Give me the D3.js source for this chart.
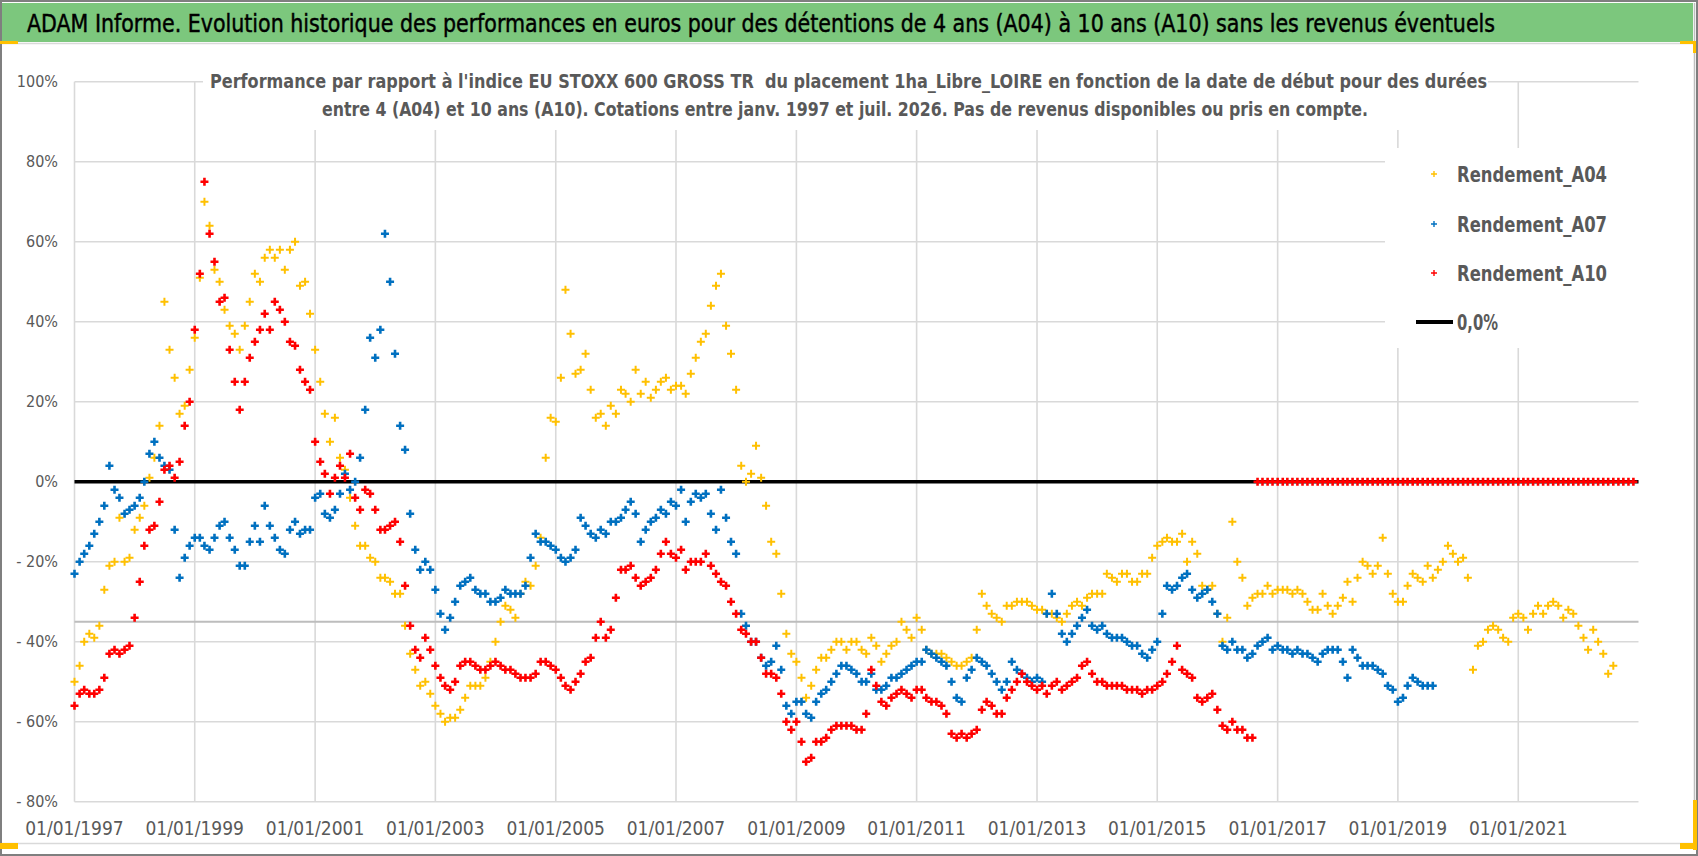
<!DOCTYPE html>
<html><head><meta charset="utf-8">
<script src="https://cdn.jsdelivr.net/npm/d3@7"></script>
<style>
html,body{margin:0;padding:0;background:#fff;}
svg{display:block;}
text{font-family:"Liberation Sans Narrow","DejaVu Sans Condensed","Liberation Sans",sans-serif;}
</style></head><body>
<svg id="chart" width="1698" height="856"></svg>
<script>
// ---------------- DATA ----------------
const titleText = "ADAM Informe. Evolution historique des performances en euros pour des détentions de 4 ans (A04) à 10 ans (A10) sans les revenus éventuels";
const subtitleLines = [
  "Performance par rapport à l'indice EU STOXX 600 GROSS TR  du placement 1ha_Libre_LOIRE en fonction de la date de début pour des durées",
  "entre 4 (A04) et 10 ans (A10). Cotations entre janv. 1997 et juil. 2026. Pas de revenus disponibles ou pris en compte."
];
const seriesNames = ["Rendement_A04", "Rendement_A07", "Rendement_A10"];
const zeroLineLabel = "0,0%";
const xTickYears = [1997, 1999, 2001, 2003, 2005, 2007, 2009, 2011, 2013, 2015, 2017, 2019, 2021];
const xDomainYears = [1997, 2023];
const yTicks = [100, 80, 60, 40, 20, 0, -20, -40, -60, -80];
const greyLineLevel = -35;
// monthly observations, first value = January 1997 (in %)
const rendementA04 = [
-50,-46,-40,-38,-39,-36,-27,-21,-20,-9,-20,-19,
-12,-9,-6,1,6,14,45,33,26,17,19,28,
36,51,70,64,53,50,43,39,37,33,39,45,
52,50,56,58,56,58,53,58,60,49,50,42,
33,25,17,10,16,6,3,-4,-11,-16,-16,-19,
-20,-24,-24,-25,-28,-28,-36,-43,-47,-51,-50,-53,
-56,-58,-60,-59,-59,-57,-54,-51,-51,-51,-49,-45,
-40,-35,-31,-32,-34,-28,-25,-26,-21,-14,6,16,
15,26,48,37,27,28,32,23,16,17,14,19,
17,23,22,20,28,22,25,21,23,25,26,23,
24,24,22,27,31,35,37,44,49,52,39,32,
23,4,0,2,9,1,-6,-15,-18,-28,-38,-43,
-45,-49,-54,-51,-47,-44,-44,-42,-40,-40,-42,-40,
-40,-42,-43,-39,-41,-45,-43,-41,-40,-35,-37,-39,
-34,-37,-42,-43,-43,-43,-44,-45,-46,-46,-45,-44,
-37,-28,-31,-33,-34,-35,-31,-31,-30,-30,-30,-31,
-32,-32,-33,-33,-34,-35,-33,-31,-30,-31,-29,-28,
-28,-28,-23,-24,-25,-23,-23,-25,-25,-23,-23,-19,
-16,-15,-14,-15,-15,-13,-20,-15,-18,-26,-27,-26,
-33,-40,-34,-10,-20,-24,-31,-29,-28,-28,-26,-28,
-27,-27,-27,-28,-27,-28,-30,-32,-32,-28,-31,-33,
-31,-29,-25,-30,-24,-20,-21,-23,-21,-14,-23,-28,
-30,-30,-26,-23,-24,-25,-21,-24,-22,-20,-16,-18,
-20,-19,-24,-47,-41,-40,-37,-36,-37,-39,-40,-34,
-33,-34,-37,-33,-31,-33,-31,-30,-31,-34,-32,-33,
-36,-39,-42,-37,-40,-43,-48,-46
];
const rendementA07 = [
-23,-20,-18,-16,-13,-10,-6,4,-2,-4,-8,-7,
-6,-4,0,7,10,6,4,3,-12,-24,-19,-16,
-14,-14,-16,-17,-14,-11,-10,-14,-17,-21,-21,-15,
-11,-15,-6,-11,-14,-17,-18,-12,-10,-13,-12,-12,
-4,-3,-8,-9,-7,-3,2,-2,0,6,18,36,
31,38,62,50,32,14,8,-8,-17,-22,-20,-22,
-27,-33,-37,-34,-30,-26,-25,-24,-27,-28,-28,-30,
-30,-29,-27,-28,-28,-28,-26,-19,-13,-15,-15,-16,
-17,-19,-20,-19,-17,-9,-11,-13,-14,-12,-13,-10,
-10,-9,-7,-5,-8,-15,-12,-10,-9,-7,-8,-5,
-6,-2,-10,-5,-3,-4,-3,-8,-12,-2,-9,-15,
-18,-33,-36,-40,-40,-44,-46,-45,-41,-47,-56,-58,
-55,-55,-58,-59,-55,-53,-52,-50,-48,-46,-46,-47,
-48,-50,-50,-48,-52,-52,-51,-49,-49,-48,-47,-46,
-45,-45,-42,-43,-44,-45,-46,-50,-54,-55,-49,-47,
-44,-45,-46,-48,-50,-52,-50,-45,-47,-48,-49,-50,
-49,-50,-33,-28,-33,-38,-40,-38,-36,-34,-32,-36,
-37,-36,-38,-39,-39,-39,-40,-41,-41,-43,-44,-42,
-40,-33,-26,-27,-26,-24,-23,-27,-29,-28,-27,-30,
-33,-41,-42,-40,-42,-42,-44,-43,-41,-40,-39,-42,
-41,-42,-42,-43,-42,-43,-43,-44,-45,-43,-42,-42,
-42,-45,-49,-42,-44,-46,-46,-46,-47,-48,-51,-52,
-55,-54,-51,-49,-50,-51,-51,-51
];
const rendementA10 = [
-56,-53,-52,-53,-53,-52,-49,-43,-42,-43,-42,-41,
-34,-25,-16,-12,-11,-5,3,4,1,5,14,20,
38,52,75,62,55,45,46,33,25,18,25,31,
35,38,42,38,45,43,40,35,34,28,25,23,
10,5,2,-3,1,4,1,7,-4,-7,-2,-3,
-7,-12,-12,-11,-10,-15,-26,-36,-42,-44,-39,-42,
-46,-49,-51,-52,-50,-46,-45,-45,-46,-47,-47,-46,
-45,-46,-47,-47,-48,-49,-49,-49,-48,-45,-45,-46,
-47,-49,-51,-52,-50,-48,-45,-44,-39,-35,-39,-37,
-29,-22,-22,-21,-24,-26,-25,-24,-22,-18,-15,-18,
-19,-17,-22,-20,-20,-20,-18,-21,-23,-25,-26,-30,
-33,-37,-38,-40,-40,-44,-48,-48,-49,-53,-60,-62,
-60,-65,-70,-69,-65,-65,-64,-62,-61,-61,-61,-61,
-62,-62,-58,-47,-51,-55,-56,-54,-53,-52,-53,-54,
-52,-52,-54,-55,-55,-56,-58,-63,-64,-63,-64,-63,
-62,-57,-55,-56,-58,-58,-54,-52,-50,-48,-50,-51,
-52,-51,-53,-51,-50,-52,-51,-50,-49,-46,-45,-48,
-50,-50,-51,-51,-51,-51,-52,-52,-52,-53,-52,-52,
-51,-50,-48,-45,-41,-47,-48,-49,-54,-55,-54,-53,
-57,-61,-62,-60,-62,-62,-64,-64,0,0,0,0,
0,0,0,0,0,0,0,0,0,0,0,0,
0,0,0,0,0,0,0,0,0,0,0,0,
0,0,0,0,0,0,0,0,0,0,0,0,
0,0,0,0,0,0,0,0,0,0,0,0,
0,0,0,0,0,0,0,0,0,0,0,0,
0,0,0,0,0,0,0,0,0,0,0,0
];
const seriesColors = ["#FFC000", "#0070C0", "#FF0000"];

// ---------------- DRAW ----------------
const svg = d3.select("#chart");
const W = 1698, H = 856;
const plot = {left: 74.5, right: 1638.5, top: 81.7, bottom: 801.7};

const x = d3.scaleTime()
  .domain(xDomainYears.map(yy => new Date(yy, 0, 1)))
  .range([plot.left, plot.right]);
const y = d3.scaleLinear().domain([-80, 100]).range([plot.bottom, plot.top]);

// frame
svg.append("rect").attr("x",0).attr("y",0).attr("width",W).attr("height",H).attr("fill","#fff");
svg.append("rect").attr("x",2).attr("y",3).attr("width",1691).attr("height",39).attr("fill","#7CC77D");
svg.append("line").attr("x1",2).attr("x2",1694).attr("y1",43.5).attr("y2",43.5).attr("stroke","#d9d9d9").attr("stroke-width",1.5);
svg.append("line").attr("x1",1694.5).attr("x2",1694.5).attr("y1",3).attr("y2",845).attr("stroke","#bfbfbf").attr("stroke-width",1.5);
svg.append("line").attr("x1",2).attr("x2",1694).attr("y1",843.5).attr("y2",843.5).attr("stroke","#d9d9d9").attr("stroke-width",1.5);
svg.append("rect").attr("x",1).attr("y",1).attr("width",W-2).attr("height",H-2).attr("fill","none").attr("stroke","#7f7f7f").attr("stroke-width",2);
// selection handles (yellow)
[[0,41,18,3],[1680,41,16,3],[1693,41,3,12],[1693,800,4,50],[1680,843,17,6],[0,843,18,6]].forEach(r=>{
  svg.append("rect").attr("x",r[0]).attr("y",r[1]).attr("width",r[2]).attr("height",r[3]).attr("fill","#FFC000");
});

// title
svg.append("text").attr("x",27).attr("y",32).attr("font-size",25).attr("fill","#000")
  .attr("stroke","#000").attr("stroke-width",0.45)
  .attr("textLength",1468).attr("lengthAdjust","spacingAndGlyphs").text(titleText);

// gridlines
const g = svg.append("g");
g.selectAll("line.h").data(yTicks).join("line")
  .attr("x1",plot.left).attr("x2",plot.right)
  .attr("y1",d=>y(d)).attr("y2",d=>y(d))
  .attr("stroke","#d9d9d9").attr("stroke-width",1.6);
g.selectAll("line.v").data(xTickYears).join("line")
  .attr("x1",d=>x(new Date(d,0,1))).attr("x2",d=>x(new Date(d,0,1)))
  .attr("y1",plot.top).attr("y2",plot.bottom)
  .attr("stroke","#d9d9d9").attr("stroke-width",1.6);
// grey reference line
g.append("line").attr("x1",plot.left).attr("x2",plot.right)
  .attr("y1",y(greyLineLevel)).attr("y2",y(greyLineLevel))
  .attr("stroke","#bdbdbd").attr("stroke-width",2);

// subtitle box (covers gridlines)
svg.append("rect").attr("x",203).attr("y",64).attr("width",1285).attr("height",66).attr("fill","#fff");
// legend box
svg.append("rect").attr("x",1385).attr("y",148).attr("width",plot.right-1385+1).attr("height",200).attr("fill","#fff");

// zero line
svg.append("line").attr("x1",plot.left).attr("x2",plot.right)
  .attr("y1",y(0)).attr("y2",y(0)).attr("stroke","#000").attr("stroke-width",3.6);

// axis labels
const fmtDate = d3.timeFormat("%d/%m/%Y");
svg.append("g").selectAll("text").data(xTickYears).join("text")
  .attr("x",d=>x(new Date(d,0,1))).attr("y",835)
  .attr("text-anchor","middle").attr("font-size",19).attr("fill","#595959")
  .text(d=>fmtDate(new Date(d,0,1)));
const fmtPct = v => v < 0 ? "- " + (-v) + "%" : v + "%";
svg.append("g").selectAll("text").data(yTicks).join("text")
  .attr("x",58).attr("y",d=>y(d)).attr("dy","0.36em")
  .attr("text-anchor","end").attr("font-size",16).attr("fill","#595959")
  .text(fmtPct);

// markers
const plusPath = s => `M${-s},0H${s}M0,${-s}V${s}`;
const allSeries = [rendementA04, rendementA07, rendementA10];
const strokeW = [2.0, 2.6, 2.6];
allSeries.forEach((arr, si) => {
  svg.append("g").selectAll("path").data(arr).join("path")
    .attr("d", plusPath(4))
    .attr("transform", (v,i) => `translate(${x(new Date(1997, i, 1))},${y(v)})`)
    .attr("fill","none").attr("stroke", seriesColors[si]).attr("stroke-width", strokeW[si]);
});

// subtitle
svg.append("g").selectAll("text").data(subtitleLines).join("text")
  .attr("x",(d,i)=>i===0?210:322).attr("y",(d,i)=>i===0?88:116)
  .attr("font-size",20).attr("font-weight","bold").attr("fill","#595959")
  .attr("textLength",(d,i)=>i===0?1277:1046).attr("lengthAdjust","spacingAndGlyphs")
  .style("white-space","pre")
  .text(d=>d);

// legend
const legY = [174, 224, 273];
seriesNames.forEach((n,i)=>{
  svg.append("path").attr("d",plusPath(3)).attr("transform",`translate(1434,${legY[i]})`)
    .attr("fill","none").attr("stroke",seriesColors[i]).attr("stroke-width",1.4);
  svg.append("text").attr("x",1457).attr("y",legY[i]+7.5).attr("font-size",21).attr("font-weight","bold")
    .attr("fill","#595959").attr("textLength",150).attr("lengthAdjust","spacingAndGlyphs").text(n);
});
svg.append("line").attr("x1",1416).attr("x2",1453).attr("y1",322).attr("y2",322).attr("stroke","#000").attr("stroke-width",4);
svg.append("text").attr("x",1457).attr("y",330).attr("font-size",21).attr("font-weight","bold")
  .attr("fill","#595959").attr("textLength",41).attr("lengthAdjust","spacingAndGlyphs").text(zeroLineLabel);
</script>
</body></html>
